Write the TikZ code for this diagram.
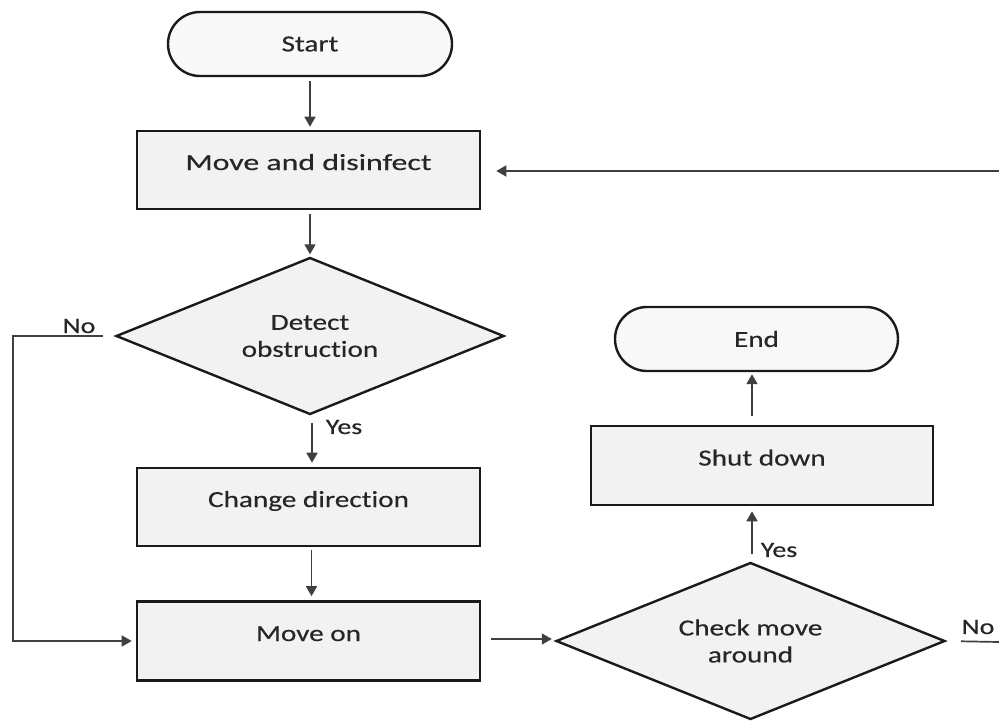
\documentclass[tikz,border=0pt]{standalone}
\usepackage{fontspec}
\setmainfont[FakeStretch=1.27,Ligatures=NoCommon,FakeBold=0.4]{Carlito}
\usetikzlibrary{shapes.geometric,shapes.misc,arrows.meta}
\definecolor{boxgray}{HTML}{F2F2F2}
\definecolor{capgray}{HTML}{F8F8F8}
\definecolor{txt}{HTML}{262626}
\definecolor{edge}{HTML}{1A1A1A}
\definecolor{wire}{HTML}{404040}
\begin{document}
\begin{tikzpicture}[x=1pt,y=-1pt,
  procbox/.style={draw=edge, line width=2.6pt, fill=boxgray, minimum width=343pt,
    minimum height=78pt, inner sep=0pt, text height=8pt, text depth=8pt,
    font=\fontsize{23}{27}\selectfont, text=txt},
  terminal/.style={rounded rectangle, draw=edge, line width=2.4pt, fill=capgray,
    minimum width=284pt, minimum height=64pt, inner sep=0pt,
    font=\fontsize{23}{27}\selectfont, text=txt},
  decision/.style={diamond, draw=edge, line width=2.4pt, fill=boxgray, aspect=2.47,
    minimum width=388pt, minimum height=157pt, inner sep=0pt, align=center,
    font=\fontsize{23}{27}\selectfont, text=txt},
  lbl/.style={font=\fontsize{22}{26}\selectfont, text=txt, inner sep=0pt},
  arr/.style={draw=wire, line width=1.7pt, -{Triangle[length=10pt,width=11pt]}},
  wireline/.style={draw=wire, line width=1.7pt}
]
\useasboundingbox[fill=white] (0,0) rectangle (999,721);

\node[terminal] (start) at (310,44) {Start};
\node[procbox] (mad) at (308.5,170) {\scalebox{1.09}[1]{Move and disinfect}};
\node[decision] (detect) at (310,336) {Detect\\obstruction};
\node[procbox] (cd) at (308.5,507) {Change direction};
\node[procbox, minimum height=79pt] (mo) at (308.5,641) {Move on};
\node[decision, minimum width=389pt] (check) at (750.5,641) {Check move\\around};
\node[procbox, minimum width=342pt, minimum height=79pt] (sd) at (762,465.5) {Shut down};
\node[terminal, minimum width=283pt] (end) at (756.5,339) {End};

\node[lbl] (no1) at (79,326) {No};
\node[lbl] (yes1) at (344,427) {Yes};
\node[lbl] (yes2) at (779,550) {Yes};
\node[lbl] (no2) at (978,627) {No};

\coordinate (rin) at (999,171);
\coordinate (nl) at (13,336);
\coordinate (nr) at (999,642);

\draw[arr, shorten <=4pt, shorten >=3pt] (start.south) -- (start.south |- mad.north);
\draw[arr, shorten >=15pt] (rin) -- (mad.east |- rin);
\draw[arr, shorten <=4pt, shorten >=2pt] (mad.south -| detect.north) -- (detect.north);
\draw[arr, shorten <=12pt, shorten >=4pt] (detect.west) -- (nl) |- (mo.west);
\draw[arr, shorten <=7pt, shorten >=4pt] ([xshift=2pt]detect.south) -- ([xshift=2pt]detect.south |- cd.north);
\draw[arr, shorten <=3pt, shorten >=4pt] ([xshift=3pt]cd.south) -- ([xshift=3pt]cd.south |- mo.north);
\draw[arr, shorten <=10pt, shorten >=3pt] ([yshift=2pt]mo.east) -- ([yshift=2pt]mo.east -| check.west);
\draw[arr, shorten <=7pt, shorten >=5pt] ([xshift=1.5pt]check.north) -- ([xshift=1.5pt]check.north |- sd.south);
\draw[arr, shorten <=9pt, shorten >=2pt] ([xshift=-10pt]sd.north) -- ([xshift=-10pt]sd.north |- end.south);
\draw[wireline, shorten <=15pt] (check.east) -- (nr);
\end{tikzpicture}
\end{document}
